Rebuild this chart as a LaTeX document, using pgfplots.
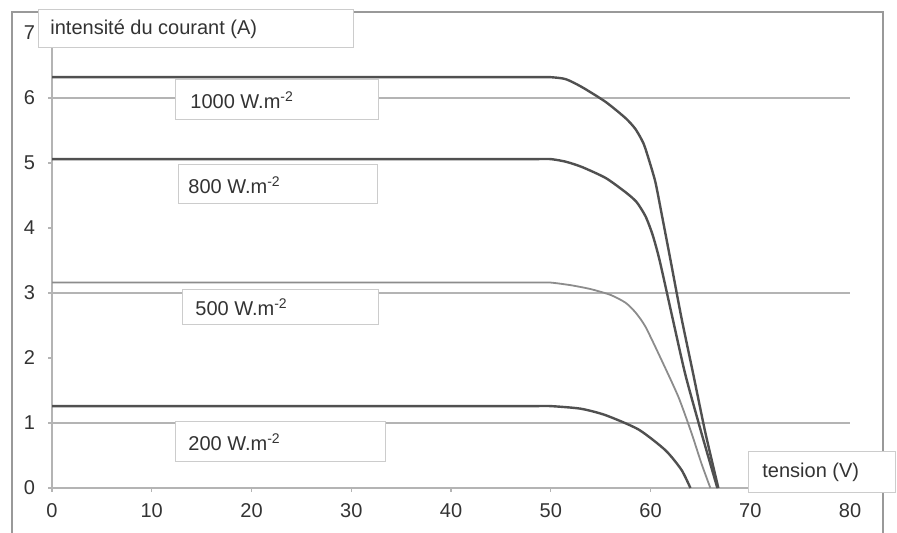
\documentclass[border=0pt]{standalone}
\usepackage{fontspec}
\setmainfont{Liberation Sans}
\usepackage{pgfplots}
\pgfplotsset{compat=1.18}
\definecolor{txt}{HTML}{333333}
\definecolor{curve}{HTML}{505050}
\definecolor{curvelight}{HTML}{8C8C8C}
\definecolor{gridc}{HTML}{B4B4B4}
\definecolor{framec}{HTML}{999999}
\definecolor{boxb}{HTML}{CCCCCC}
\begin{document}
\begin{tikzpicture}[font=\fontsize{10}{12}\selectfont]
\begin{scope}[x=0.5pt,y=0.5pt]
\useasboundingbox (0,0) rectangle (897,533);
\draw[framec, line width=1pt] (12,0) -- (12,521) -- (883,521) -- (883,0);
\end{scope}
\begin{axis}[at={(26pt,22.5pt)}, anchor=south west, scale only axis,
  width=399pt, height=227.5pt, xmin=0, xmax=80, ymin=0, ymax=7,
  axis x line=bottom, axis y line=left,
  axis line style={-, gridc, line width=1pt},
  xtick={0,10,...,80}, ytick={0,...,7},
  tick style={gridc, line width=0.6pt}, tick align=outside,
  major tick length=2pt,
  tick label style={txt, font=\fontsize{10}{12}\selectfont},
  /pgf/number format/assume math mode=true,
  xticklabel style={yshift=-2pt},
  yticklabel style={xshift=-3pt},
  clip=false]
\addplot[gridc, line width=1.2pt] coordinates {(0,6) (80,6)};
\addplot[gridc, line width=1.2pt] coordinates {(0,3) (80,3)};
\addplot[gridc, line width=1.2pt] coordinates {(0,1) (80,1)};
% 1000 W/m2
\addplot[curve, line width=1.2pt, smooth, tension=0.4] coordinates {
(0,6.32) (10,6.32) (20,6.32) (30,6.32) (40,6.32) (45,6.32) (47,6.32) (48.5,6.32)
(50,6.32) (51.5,6.29) (53.1,6.17) (55.5,5.94) (57.5,5.69) (58.5,5.52) (59.3,5.30)
(59.9,5.02) (60.5,4.70) (61.1,4.23) (62.0,3.51) (63.1,2.62) (64.3,1.74) (65.5,0.85) (66.8,0)};
% 800 W/m2
\addplot[curve, line width=1.2pt, smooth, tension=0.4] coordinates {
(0,5.06) (10,5.06) (20,5.06) (30,5.06) (40,5.06) (45,5.06) (47,5.06) (48.5,5.06)
(50,5.06) (51.5,5.02) (53.1,4.94) (55.5,4.77) (57.5,4.55) (58.6,4.40) (59.5,4.18)
(60.2,3.90) (60.9,3.51) (62.2,2.62) (63.5,1.74) (65.1,0.85) (66.7,0)};
% 500 W/m2
\addplot[curvelight, line width=0.9pt, smooth, tension=0.4] coordinates {
(0,3.16) (10,3.16) (20,3.16) (30,3.16) (40,3.16) (45,3.16) (47,3.16) (48.5,3.16)
(50,3.16) (52,3.12) (54,3.06) (56,2.97) (57.5,2.85) (58.5,2.70) (59.5,2.48) (61.1,1.97)
(62.8,1.40) (64.1,0.85) (65.1,0.38) (66,0)};
% 200 W/m2
\addplot[curve, line width=1.2pt, smooth, tension=0.4] coordinates {
(0,1.26) (10,1.26) (20,1.26) (30,1.26) (40,1.26) (45,1.26) (47,1.26) (48.5,1.26)
(50,1.26) (53,1.22) (55.5,1.12) (58.8,0.90) (61.5,0.58) (63.1,0.28) (64,0)};
\end{axis}
\begin{scope}[x=0.5pt,y=0.5pt]
\tikzset{bx/.style={draw=boxb, fill=white, line width=0.5pt}}
\filldraw[bx] (38,523) rectangle (353,485);
\node[anchor=west, txt, inner sep=0] at (50,504) {intensité du courant (A)};
\filldraw[bx] (175,453) rectangle (378,413);
\node[anchor=west, txt, inner sep=0] at (190,433) {1000 W.m\textsuperscript{-2}};
\filldraw[bx] (178,368) rectangle (377,329);
\node[anchor=west, txt, inner sep=0] at (188,348) {800 W.m\textsuperscript{-2}};
\filldraw[bx] (182,243) rectangle (378,208);
\node[anchor=west, txt, inner sep=0] at (195,226) {500 W.m\textsuperscript{-2}};
\filldraw[bx] (175,111) rectangle (385,71);
\node[anchor=west, txt, inner sep=0] at (188,91) {200 W.m\textsuperscript{-2}};
\filldraw[bx] (748,81) rectangle (895,40);
\node[anchor=west, txt, inner sep=0] at (762,61) {tension (V)};
\end{scope}
\end{tikzpicture}
\end{document}
